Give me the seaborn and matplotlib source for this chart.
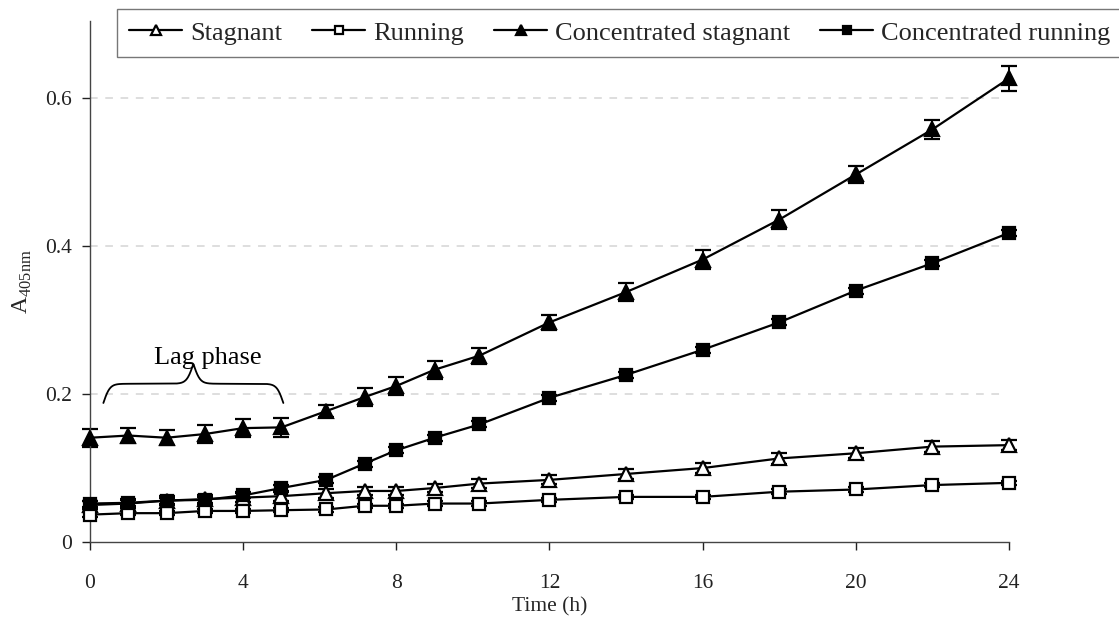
import numpy as np
import pandas as pd
import seaborn as sns
import matplotlib.pyplot as plt

# sampling times (h)
time = [0, 1, 2, 3, 4, 5, 6.17, 7.17, 8, 9, 10.17, 12, 14, 16, 18, 20, 22, 24]

stagnant = [0.050, 0.052, 0.056, 0.058, 0.060, 0.062, 0.066, 0.069, 0.069, 0.073,
            0.079, 0.084, 0.092, 0.100, 0.113, 0.120, 0.129, 0.131]
running = [0.037, 0.039, 0.039, 0.042, 0.042, 0.043, 0.044, 0.049, 0.049, 0.052,
           0.052, 0.057, 0.061, 0.061, 0.068, 0.071, 0.077, 0.080]
conc_stagnant = [0.141, 0.144, 0.141, 0.146, 0.154, 0.155, 0.177, 0.196, 0.211, 0.233,
                 0.252, 0.297, 0.338, 0.382, 0.436, 0.497, 0.558, 0.627]
conc_running = [0.052, 0.053, 0.056, 0.057, 0.063, 0.073, 0.084, 0.106, 0.124, 0.141,
                0.159, 0.195, 0.226, 0.260, 0.297, 0.340, 0.377, 0.418]

# standard deviations
stagnant_err = [0.006] * 12 + [0.007] * 6
running_err = [0.003] * 18
conc_stagnant_err = [0.012, 0.010, 0.010, 0.012, 0.012, 0.013, 0.008, 0.012, 0.012, 0.012,
                     0.011, 0.010, 0.012, 0.013, 0.013, 0.012, 0.013, 0.017]
conc_running_err = [0.004] * 18

series = [
    ("Stagnant", stagnant, stagnant_err, "^", "white", 10),
    ("Running", running, running_err, "s", "white", 9),
    ("Concentrated stagnant", conc_stagnant, conc_stagnant_err, "^", "black", 10),
    ("Concentrated running", conc_running, conc_running_err, "s", "black", 9),
]

x_ticks = [0, 4, 8, 12, 16, 20, 24]
y_ticks = [0, 0.2, 0.4, 0.6]
y_ticklabels = ["0", "0.2", "0.4", "0.6"]

sns.set_theme(style="ticks")
plt.rcParams['font.family'] = ['Liberation Serif', 'DejaVu Serif']
plt.rcParams['mathtext.fontset'] = 'custom'
plt.rcParams['mathtext.rm'] = 'Liberation Serif'

fig = plt.figure(figsize=(11.19, 6.25), dpi=100)
ax = fig.add_axes([0.0804, 0.1328, 0.8213, 0.8341])

for name, vals, err, mk, fc, ms in series:
    df = pd.DataFrame({"time": time, "A": vals})
    sns.lineplot(data=df, x="time", y="A", ax=ax, color="black", lw=1.6,
                 marker=mk, markersize=ms, markerfacecolor=fc,
                 markeredgecolor="black", markeredgewidth=1.6,
                 label=name, clip_on=False, zorder=3)
    ax.errorbar(time, vals, yerr=err, fmt="none", ecolor="black",
                elinewidth=1.4, capsize=6, capthick=1.6, clip_on=False, zorder=2)

# lag phase brace
x0, x1 = 0.35, 5.05
u = np.linspace(0, 0.5, 200)
beta = 55
h = 1 / (1 + np.exp(-beta * (u - u[0]))) + 1 / (1 + np.exp(-beta * (u - u[-1])))
yb = np.concatenate([h, h[::-1]]) - 0.5
xb = np.linspace(x0, x1, len(yb))
ax.plot(xb, 0.188 + yb * 0.052, color="black", lw=1.3, zorder=4)
ax.text(3.07, 0.249, "Lag phase", ha="center", va="center",
        fontsize=19, color="black", zorder=5)

ax.set_xlim(0, 24)
ax.set_ylim(0, 0.705)
ax.set_xticks(x_ticks)
ax.set_yticks(y_ticks)
ax.set_yticklabels(y_ticklabels)
ax.tick_params(axis="both", labelsize=15.5, colors="#222222", length=6, width=1,
               direction="out")
ax.tick_params(axis="x", pad=17)
ax.tick_params(axis="y", pad=7)
ax.set_xlabel("Time (h)", fontsize=15.5, labelpad=3)
ax.set_ylabel(r"A$_{\mathregular{405nm}}$", fontsize=17)
ax.yaxis.set_label_coords(-0.061, 0.50)

for y in y_ticks[1:]:
    ax.axhline(y, xmax=0.995, color="#d4d4d4", lw=1.1, ls=(0, (5, 5)), zorder=0)

sns.despine(ax=ax)
for s in ["left", "bottom"]:
    ax.spines[s].set_color("#444444")
    ax.spines[s].set_linewidth(1.0)

handles, labels = ax.get_legend_handles_labels()
if ax.get_legend():
    ax.get_legend().remove()
leg = fig.legend(handles, labels, loc="upper left", bbox_to_anchor=(0.1046, 0.986),
                 ncol=4, fontsize=19, frameon=True, fancybox=False,
                 handlelength=2.0, handletextpad=0.3, columnspacing=1.15,
                 markerscale=0.65, borderpad=0.47, borderaxespad=0)
leg.get_frame().set_edgecolor("#555555")
leg.get_frame().set_linewidth(1.0)

fig.savefig("out.png", dpi=100)
